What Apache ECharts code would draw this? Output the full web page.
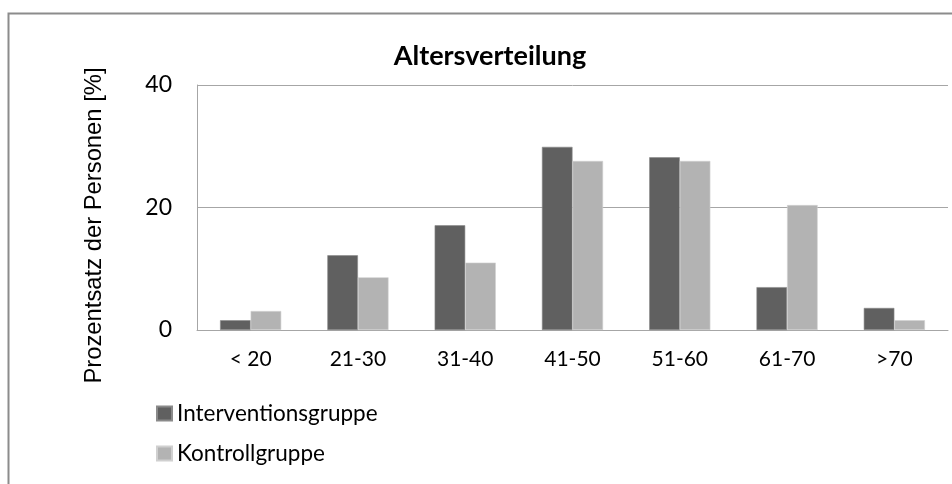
<!DOCTYPE html>
<html>
<head>
<meta charset="utf-8">
<script src="https://cdn.jsdelivr.net/npm/echarts@6/dist/echarts.min.js"></script>
<style>html,body{margin:0;padding:0;background:#fff}#c{width:952px;height:484px}</style>
</head>
<body>
<div id="c"></div>
<script>
const categories = ['< 20', '21-30', '31-40', '41-50', '51-60', '61-70', '>70'];
const intervention = [1.6, 12.2, 17.1, 29.9, 28.2, 7.0, 3.6];
const kontrolle = [3.1, 8.6, 11.0, 27.6, 27.6, 20.4, 1.6];
const seriesNames = ['Interventionsgruppe', 'Kontrollgruppe'];

const chart = echarts.init(document.getElementById('c'), null, {renderer: 'canvas'});
chart.setOption({
  animation: false,
  backgroundColor: '#fff',
  graphic: [{
    type: 'rect', left: 6, top: 11, shape: {width: 960, height: 490},
    style: {fill: 'none', stroke: '#8c8c8c', lineWidth: 2}, silent: true, z: -1
  }],
  title: {
    text: 'Altersverteilung', left: 485, top: 38, textAlign: 'center',
    textStyle: {fontFamily: 'Lato', fontWeight: 'bold', fontSize: 27, color: '#000'}
  },
  legend: {
    orient: 'vertical', left: 151, top: 397, itemWidth: 15, itemHeight: 14, itemGap: 17,
    icon: 'rect',
    textStyle: {fontFamily: 'Lato', fontSize: 22.5, lineHeight: 23, color: '#000'},
    data: seriesNames
  },
  grid: {left: 197, right: 4, top: 85, bottom: 154, containLabel: false},
  xAxis: {
    type: 'category', data: categories,
    axisLine: {lineStyle: {color: '#a6a6a6', width: 1}},
    axisTick: {show: false},
    axisLabel: {fontFamily: 'Lato', fontSize: 21, color: '#000', margin: 19}
  },
  yAxis: {
    type: 'value', min: 0, max: 40, interval: 20,
    name: 'Prozentsatz der Personen [%]', nameLocation: 'middle', nameGap: 91,
    nameTextStyle: {fontFamily: 'Liberation Sans', fontSize: 23.8, color: '#000', padding: [0, 36, 0, 0]},
    axisLine: {show: true, lineStyle: {color: '#a6a6a6', width: 1}},
    axisTick: {show: false},
    splitLine: {lineStyle: {color: '#a6a6a6', width: 1}},
    axisLabel: {fontFamily: 'Lato', fontSize: 23, color: '#000', margin: 25}
  },
  series: [
    {name: seriesNames[0], type: 'bar', data: intervention, barGap: '0%', barCategoryGap: '43%',
     itemStyle: {color: '#606060', borderColor: '#8a8a8a', borderWidth: 0.6}},
    {name: seriesNames[1], type: 'bar', data: kontrolle, barGap: '0%', barCategoryGap: '43%',
     itemStyle: {color: '#b3b3b3', borderColor: '#d0d0d0', borderWidth: 0.6}}
  ]
});
</script>
</body>
</html>
